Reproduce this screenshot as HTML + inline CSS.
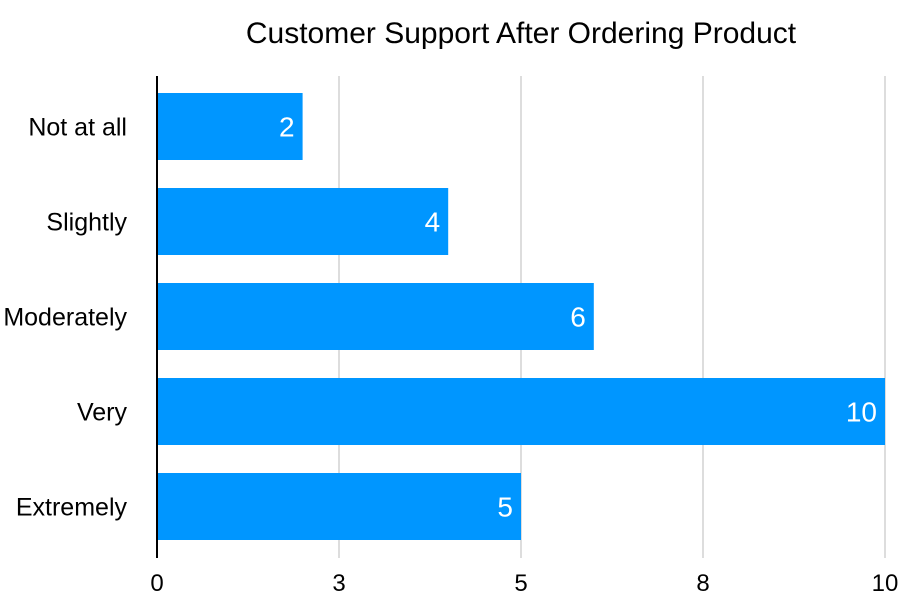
<!DOCTYPE html>
<html><head><meta charset="utf-8"><style>
html,body{margin:0;padding:0;background:#fff;}
svg{display:block;font-family:"Liberation Sans",Arial,sans-serif;}
</style></head><body>
<svg id="chart" width="920" height="602"></svg>
<script>
const categories=["Not at all","Slightly","Moderately","Very","Extremely"];
const values=[2,4,6,10,5];
const tickValues=[0,2.5,5,7.5,10];
const tickLabels=["0","3","5","8","10"];
const xMax=10;

const NS="http://www.w3.org/2000/svg";
const svg=document.getElementById('chart');
const L=157,R=885,T=79,B=554;
const band=(B-T)/categories.length, barH=67;
function x(v){return L+(v/xMax)*(R-L);}
function yb(i){return T+i*band+(band-barH)/2;}
function mk(tag,attrs,parent){const e=document.createElementNS(NS,tag);for(const k in attrs)e.setAttribute(k,attrs[k]);(parent||svg).appendChild(e);return e;}

const title=mk('text',{x:521,y:43,'text-anchor':'middle','font-size':30,fill:'#000'});
title.textContent='Customer Support After Ordering Product';



tickValues.forEach((t,i)=>{
  if(t>0){
    const g=mk('line',{x1:x(t),x2:x(t),y1:76,y2:558,stroke:'#bbb','stroke-width':1});
    
    
  }
  const lb=mk('text',{x:x(t),y:591,'text-anchor':'middle','font-size':24,fill:'#000'});
  lb.textContent=tickLabels[i];
  
  
});

categories.forEach((c,i)=>{
  const y=yb(i);
  const r=mk('rect',{x:L,y:y,width:x(values[i])-L,height:barH,fill:'#0096ff'});
  
  
  const v=mk('text',{x:x(values[i])-8,y:y+barH/2+10,'text-anchor':'end','font-size':28,fill:'#fff'});
  v.textContent=String(values[i]);
  
  
  const cl=mk('text',{x:127,y:y+barH/2+9,'text-anchor':'end','font-size':25,fill:'#000'});
  cl.textContent=c;
  
  
});

const ax=mk('line',{x1:L,x2:L,y1:76,y2:558,stroke:'#000','stroke-width':2});


</script>
</body></html>
